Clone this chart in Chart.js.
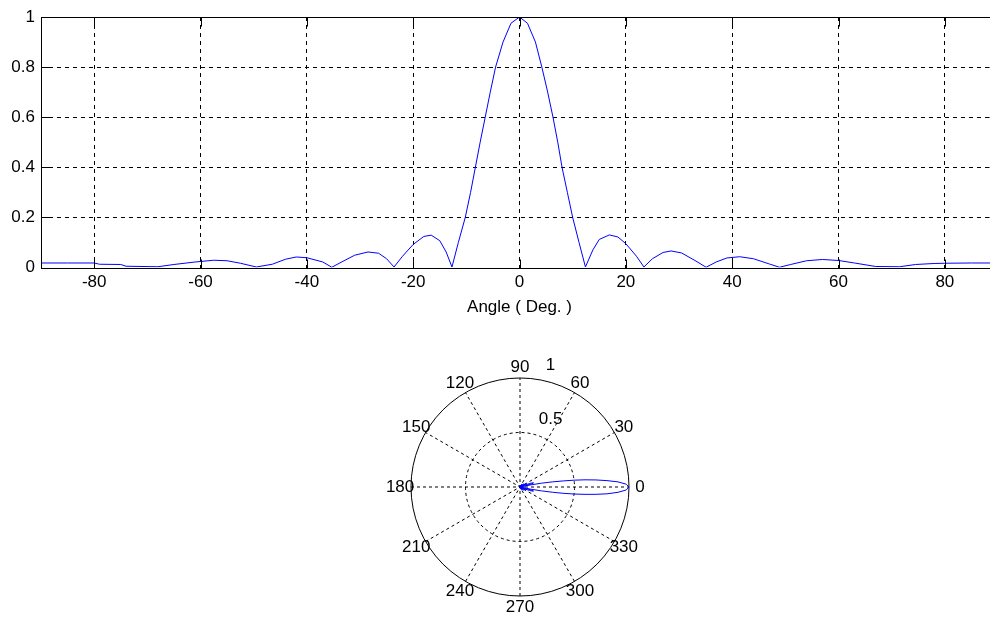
<!DOCTYPE html>
<html>
<head>
<meta charset="utf-8">
<title>Angle ( Deg. )</title>
<script src="https://cdn.jsdelivr.net/npm/chart.js@4.4.1/dist/chart.umd.min.js"></script>
<style>
  body { margin: 0; background: #fff; overflow: hidden; width: 990px; height: 619px; position: relative; }
  #boxRetangular { position: absolute; left: 0; top: 0; }
  #boxPolar { position: absolute; left: 370px; top: 337px; }
</style>
</head>
<body>
<div id="boxRetangular"><canvas id="graficoRetangular" width="1008" height="320"></canvas></div>
<div id="boxPolar"><canvas id="graficoPolar" width="300" height="300"></canvas></div>
<script>
// Dados (angulo em graus, amplitude normalizada)
const angulos = [
    -90, -85, -80, -79, -75, -74, -68, -65, -61, -57.5,
    -55, -52.5, -49.5, -46.5, -44, -42, -40, -37, -35.3, -33,
    -31, -28.5, -26.5, -25, -23.6, -22, -20, -18, -16.6, -15,
    -13.8, -12.7, -11.5, -10.2, -9.2, -8.3, -7.4, -6.45, -5.5, -4.5,
    -3.1, -1.6, 0, 1.5, 3, 4.2, 5.3, 6.3, 7.2, 8,
    9, 10, 11.2, 12.4, 13.8, 15, 16.9, 18.5, 20, 22,
    23.4, 25, 27, 28.5, 30.5, 33, 35.1, 37, 39, 41.4,
    44, 47, 48.9, 51, 54, 57, 60, 63, 67, 71.5,
    74.5, 78, 80, 85, 90
];
const valores = [
    0.018, 0.018, 0.018, 0.013, 0.012, 0.005, 0.003, 0.012, 0.022, 0.029,
    0.027, 0.017, 0.002, 0.013, 0.033, 0.042, 0.039, 0.022, 0.001, 0.027,
    0.049, 0.062, 0.057, 0.035, 0.002, 0.045, 0.092, 0.124, 0.129, 0.107,
    0.062, 0.002, 0.100, 0.200, 0.300, 0.400, 0.500, 0.600, 0.700, 0.800,
    0.900, 0.975, 1.000, 0.975, 0.900, 0.800, 0.700, 0.600, 0.500, 0.400,
    0.300, 0.200, 0.100, 0.002, 0.070, 0.112, 0.130, 0.122, 0.095, 0.045,
    0.002, 0.035, 0.060, 0.066, 0.058, 0.028, 0.001, 0.022, 0.038, 0.043,
    0.035, 0.014, 0.001, 0.012, 0.027, 0.032, 0.028, 0.018, 0.004, 0.003,
    0.012, 0.016, 0.017, 0.018, 0.018
];
const ticksX = [-80, -60, -40, -20, 0, 20, 40, 60, 80];
const ticksY = [0, 0.2, 0.4, 0.6, 0.8, 1];
const rotulosPolar = [0, 30, 60, 90, 120, 150, 180, 210, 240, 270, 300, 330];
const aneisPolar = [0.5, 1];

const fonte = { family: '"Liberation Sans", Arial, sans-serif', size: 17 };
const tracejado = [4, 4];

// Moldura do eixo com marcas internas (estilo MATLAB)
const molduraPlugin = {
    id: 'moldura',
    afterDatasetsDraw(chart) {
        const { ctx, chartArea } = chart;
        const sx = chart.scales.x, sy = chart.scales.y;
        const l = Math.round(chartArea.left) + 0.5, r = Math.round(chartArea.right) + 0.5;
        const t = Math.round(chartArea.top) + 0.5, b = Math.round(chartArea.bottom) + 0.5;
        const tam = 9;
        ctx.save();
        ctx.setLineDash([]);
        ctx.strokeStyle = '#000';
        ctx.lineWidth = 1;
        ctx.strokeRect(l, t, r - l, b - t);
        ctx.beginPath();
        ticksX.forEach(v => {
            const x = Math.round(sx.getPixelForValue(v)) + 0.5;
            ctx.moveTo(x, b); ctx.lineTo(x, b - tam);
            ctx.moveTo(x, t); ctx.lineTo(x, t + tam);
        });
        ticksY.forEach(v => {
            const y = Math.round(sy.getPixelForValue(v)) + 0.5;
            ctx.moveTo(l, y); ctx.lineTo(l + tam, y);
            ctx.moveTo(r, y); ctx.lineTo(r - tam, y);
        });
        ctx.stroke();
        ctx.restore();
    }
};

// Grade polar: aneis, raios e rotulos
const gradePolarPlugin = {
    id: 'gradePolar',
    beforeDatasetsDraw(chart) {
        const { ctx } = chart;
        const sx = chart.scales.x, sy = chart.scales.y;
        const cx = sx.getPixelForValue(0), cy = sy.getPixelForValue(0);
        const px = (x, y) => [sx.getPixelForValue(x), sy.getPixelForValue(y)];
        const rMax = Math.max(...aneisPolar);
        ctx.save();
        ctx.strokeStyle = '#000';
        ctx.lineWidth = 1;

        ctx.setLineDash([3, 3]);
        rotulosPolar.filter(a => a < 180).forEach(a => {
            const t = a * Math.PI / 180;
            const [x1, y1] = px(-rMax * Math.cos(t), -rMax * Math.sin(t));
            const [x2, y2] = px(rMax * Math.cos(t), rMax * Math.sin(t));
            ctx.beginPath();
            ctx.moveTo(x1, y1);
            ctx.lineTo(x2, y2);
            ctx.stroke();
        });

        aneisPolar.forEach(rv => {
            const raio = sx.getPixelForValue(rv) - cx;
            ctx.setLineDash(rv < rMax ? [3, 3] : []);
            ctx.beginPath();
            ctx.arc(cx, cy, raio, 0, 2 * Math.PI);
            ctx.stroke();
        });

        ctx.setLineDash([]);
        ctx.fillStyle = '#000';
        ctx.font = fonte.size + 'px ' + fonte.family;
        ctx.textAlign = 'center';
        ctx.textBaseline = 'middle';
        rotulosPolar.forEach(a => {
            const t = a * Math.PI / 180;
            const [x, y] = px(1.1 * rMax * Math.cos(t), 1.1 * rMax * Math.sin(t));
            ctx.fillText(String(a), x, y);
        });
        aneisPolar.forEach(rv => {
            const [x, y] = px(0.28, rv + 0.12);
            ctx.fillText(String(rv), x, y);
        });
        ctx.restore();
    }
};

function desenharRetangular() {
    const ctx = document.getElementById('graficoRetangular').getContext('2d');
    window.graficoRetangular = new Chart(ctx, {
        type: 'scatter',
        data: {
            datasets: [{
                data: angulos.map((a, i) => ({ x: a, y: valores[i] })),
                showLine: true,
                borderColor: '#0000ff',
                borderWidth: 1,
                pointRadius: 0,
                tension: 0
            }]
        },
        options: {
            responsive: false,
            animation: false,
            layout: { padding: { top: 17, right: 10, left: 0, bottom: 0 } },
            plugins: {
                legend: { display: false },
                tooltip: { enabled: false }
            },
            scales: {
                x: {
                    type: 'linear',
                    min: -90,
                    max: 90,
                    afterBuildTicks: s => { s.ticks = ticksX.map(v => ({ value: v })); },
                    afterFit: s => { s.height = 52.5; },
                    ticks: { font: fonte, color: '#000', padding: 5, maxRotation: 0, autoSkip: false, callback: v => String(v) },
                    grid: { color: '#000', lineWidth: 1, drawTicks: false, tickLength: 0 },
                    border: { display: false, dash: tracejado },
                    title: { display: true, text: 'Angle ( Deg. )', font: fonte, color: '#000', padding: { top: 0, bottom: 2 } }
                },
                y: {
                    type: 'linear',
                    min: 0,
                    max: 1,
                    afterBuildTicks: s => { s.ticks = ticksY.map(v => ({ value: v })); },
                    afterFit: s => { s.width = 41; },
                    ticks: { font: fonte, color: '#000', padding: 6, autoSkip: false, callback: v => String(v) },
                    grid: {
                        color: c => (c.tick && (c.tick.value === 0 || c.tick.value === 1)) ? 'rgba(0,0,0,0)' : '#000',
                        lineWidth: 1, drawTicks: false, tickLength: 0
                    },
                    border: { display: false, dash: tracejado }
                }
            }
        },
        plugins: [molduraPlugin]
    });
}

function desenharPolar() {
    const limite = 1.376;
    const ctx = document.getElementById('graficoPolar').getContext('2d');
    window.graficoPolar = new Chart(ctx, {
        type: 'scatter',
        data: {
            datasets: [{
                data: angulos.map((a, i) => ({
                    x: valores[i] * Math.cos(a * Math.PI / 180),
                    y: valores[i] * Math.sin(a * Math.PI / 180)
                })),
                showLine: true,
                borderColor: '#0000ff',
                borderWidth: 1,
                pointRadius: 0,
                tension: 0
            }]
        },
        options: {
            responsive: false,
            animation: false,
            layout: { padding: 0 },
            plugins: {
                legend: { display: false },
                tooltip: { enabled: false }
            },
            scales: {
                x: { type: 'linear', min: -limite, max: limite, display: false },
                y: { type: 'linear', min: -limite, max: limite, display: false }
            }
        },
        plugins: [gradePolarPlugin]
    });
}

document.addEventListener("DOMContentLoaded", () => {
    desenharRetangular();
    desenharPolar();
});
</script>
</body>
</html>
